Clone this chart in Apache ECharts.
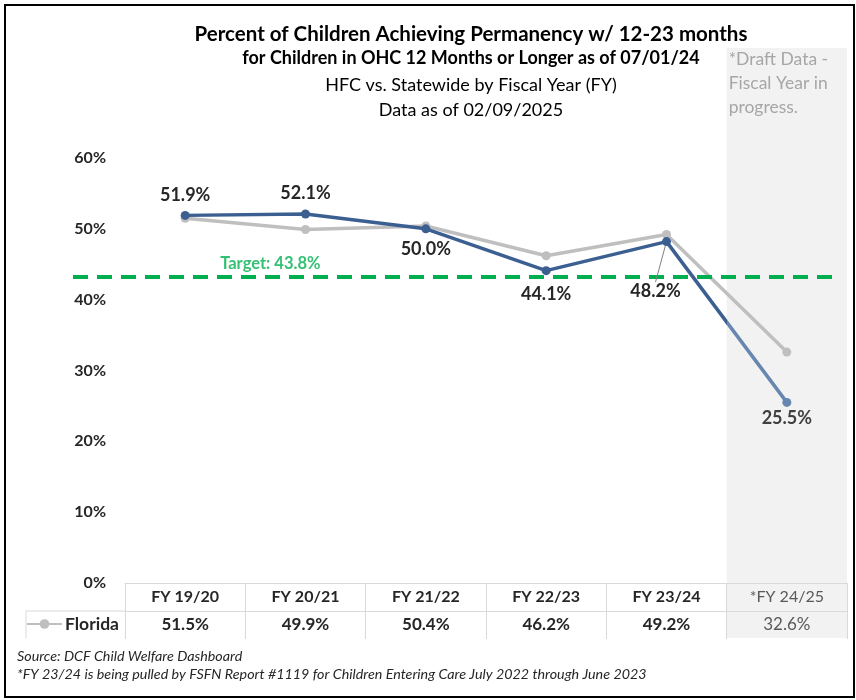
<!DOCTYPE html>
<html>
<head>
<meta charset="utf-8">
<script src="https://cdn.jsdelivr.net/npm/echarts@6/dist/echarts.min.js"></script>
<style>
  html, body { margin: 0; padding: 0; background: #fff; }
  #main { width: 856px; height: 700px; }
</style>
</head>
<body>
<div id="main"></div>
<script>
// 数据
var categories = ['FY 19/20', 'FY 20/21', 'FY 21/22', 'FY 22/23', 'FY 23/24', '*FY 24/25'];
var hfcValues = [51.9, 52.1, 50.0, 44.1, 48.2, 25.5];
var floridaValues = [51.5, 49.9, 50.4, 46.2, 49.2, 32.6];
var targetValue = 43.2;
var targetText = 'Target: 43.8%';
var titleLines = [
  'Percent of Children Achieving Permanency w/ 12-23 months',
  'for Children in OHC 12 Months or Longer as of 07/01/24',
  'HFC vs. Statewide by Fiscal Year (FY)',
  'Data as of 02/09/2025'
];
var draftNote = '*Draft Data -\nFiscal Year in\nprogress.';
var footNotes = [
  'Source: DCF Child Welfare Dashboard',
  '*FY 23/24 is being pulled by FSFN Report #1119 for Children Entering Care July 2022 through June 2023'
];

var FONT = 'Lato';
var DARK = '#262626';
var BLUE = '#3B5F91';
var BLUE_LIGHT = '#6887B0';
var DRAFT_INDEX = categories.length - 1;

// HFC 标签位置
var labelPos = ['top', 'top', 'bottom', 'bottom', 'bottom', 'bottom'];
var labelDist = [7, 7, 7, 10, 5, 2];

// 已完成年度 (深蓝)
var hfcMain = hfcValues.map(function (v, i) {
  if (i == DRAFT_INDEX) return '-';
  var item = { value: v, label: { position: labelPos[i], distance: labelDist[i] } };
  if (i == 4) {
    item.labelLine = { show: true, lineStyle: { color: '#808080', width: 1 } };
  }
  return item;
});
// 草稿年度 (浅蓝段)
var hfcDraft = hfcValues.map(function (v, i) {
  if (i < DRAFT_INDEX - 1) return '-';
  if (i == DRAFT_INDEX - 1) return { value: v, symbol: 'none', label: { show: false } };
  return { value: v, label: { show: true, position: labelPos[i], distance: labelDist[i], color: '#404040' } };
});

var chart = echarts.init(document.getElementById('main'), null, { renderer: 'canvas' });

var labelRich = {
  b: { fontFamily: FONT, fontSize: 16, fontWeight: 'bold', color: DARK, lineHeight: 20 },
  d: { fontFamily: FONT, fontSize: 16, fontWeight: 'normal', color: '#595959', lineHeight: 20 }
};
var valueRich = {
  b: { fontFamily: FONT, fontSize: 17, fontWeight: 'bold', color: DARK, lineHeight: 20 },
  d: { fontFamily: FONT, fontSize: 17, fontWeight: 'normal', color: '#595959', lineHeight: 20 }
};

var option = {
  animation: false,
  backgroundColor: '#fff',
  textStyle: { fontFamily: FONT },
  title: [
    { text: titleLines[0], left: 471, top: 22, textAlign: 'center', padding: 0,
      textStyle: { fontFamily: FONT, fontSize: 20.5, fontWeight: 'bold', color: '#000', lineHeight: 24 } },
    { text: titleLines[1], left: 471, top: 47, textAlign: 'center', padding: 0,
      textStyle: { fontFamily: FONT, fontSize: 18, fontWeight: 'bold', color: '#000', lineHeight: 22 } },
    { text: titleLines[2], left: 471, top: 74, textAlign: 'center', padding: 0,
      textStyle: { fontFamily: FONT, fontSize: 18, fontWeight: 'normal', color: '#000', lineHeight: 22 } },
    { text: titleLines[3], left: 471, top: 99, textAlign: 'center', padding: 0,
      textStyle: { fontFamily: FONT, fontSize: 18, fontWeight: 'normal', color: '#000', lineHeight: 22 } }
  ],
  legend: {
    data: ['Florida'],
    left: 26,
    top: 615,
    itemWidth: 35,
    itemHeight: 12,
    itemGap: 0,
    padding: 0,
    textStyle: { fontFamily: FONT, fontSize: 17.5, fontWeight: 'bold', color: DARK, padding: [0, 0, 0, -2] }
  },
  grid: [
    { left: 125, right: 9, top: 158, bottom: 117 },
    { left: 73, right: 24, top: 158, bottom: 117 }
  ],
  xAxis: [
    {
      type: 'category',
      gridIndex: 0,
      data: categories,
      boundaryGap: true,
      axisLine: { lineStyle: { color: '#D9D9D9', width: 1 } },
      axisTick: { show: true, interval: 0, length: 56, lineStyle: { color: '#D9D9D9', width: 1 } },
      axisLabel: {
        interval: 0,
        margin: 4,
        formatter: function (v, i) {
          return i == DRAFT_INDEX ? '{d|' + v + '}' : '{b|' + v + '}';
        },
        rich: labelRich
      }
    },
    {
      type: 'category',
      gridIndex: 0,
      position: 'bottom',
      offset: 28,
      data: floridaValues.map(function (v) { return v.toFixed(1) + '%'; }),
      boundaryGap: true,
      axisLine: { lineStyle: { color: '#D9D9D9', width: 1 } },
      axisTick: { show: false },
      axisLabel: {
        interval: 0,
        margin: 4,
        formatter: function (v, i) {
          return i == DRAFT_INDEX ? '{d|' + v + '}' : '{b|' + v + '}';
        },
        rich: valueRich
      }
    },
    { type: 'value', gridIndex: 1, min: 0, max: 1, show: false }
  ],
  yAxis: [
    {
      type: 'value',
      gridIndex: 0,
      min: 0,
      max: 60,
      interval: 10,
      axisLine: { show: false },
      axisTick: { show: false },
      splitLine: { show: false },
      axisLabel: {
        formatter: '{value}%',
        margin: 19,
        fontFamily: FONT, fontSize: 16, fontWeight: 'bold', color: DARK
      }
    },
    { type: 'value', gridIndex: 1, min: 0, max: 60, show: false }
  ],
  series: [
    {
      name: 'Florida',
      type: 'line',
      xAxisIndex: 0,
      yAxisIndex: 0,
      data: floridaValues,
      symbol: 'circle',
      symbolSize: 9,
      color: '#BFBFBF',
      lineStyle: { width: 3.5, color: '#BFBFBF' },
      itemStyle: { color: '#BFBFBF' },
      z: 2
    },
    {
      name: 'HFC draft',
      type: 'line',
      xAxisIndex: 0,
      yAxisIndex: 0,
      data: hfcDraft,
      symbol: 'circle',
      symbolSize: 9,
      lineStyle: {
        width: 3.5,
        color: new echarts.graphic.LinearGradient(0, 0, 1, 0, [
          { offset: 0, color: BLUE },
          { offset: 0.5, color: BLUE },
          { offset: 0.5, color: BLUE_LIGHT },
          { offset: 1, color: BLUE_LIGHT }
        ])
      },
      itemStyle: { color: BLUE_LIGHT },
      z: 4,
      label: {
        show: false,
        fontFamily: FONT,
        fontSize: 18,
        fontWeight: 'bold',
        formatter: function (p) { return p.value.toFixed(1) + '%'; }
      }
    },
    {
      name: 'HFC',
      type: 'line',
      xAxisIndex: 0,
      yAxisIndex: 0,
      data: hfcMain,
      symbol: 'circle',
      symbolSize: 9,
      color: BLUE,
      lineStyle: { width: 3.5, color: BLUE },
      itemStyle: { color: BLUE },
      z: 5,
      label: {
        show: true,
        fontFamily: FONT,
        fontSize: 18,
        fontWeight: 'bold',
        color: DARK,
        formatter: function (p) { return p.value.toFixed(1) + '%'; }
      },
      labelLayout: function (p) {
        if (p.dataIndex == 4) {
          return { dx: -11, dy: 31 };
        }
        return {};
      }
    },
    {
      name: 'Target',
      type: 'line',
      xAxisIndex: 2,
      yAxisIndex: 1,
      data: [[0, targetValue], [1, targetValue]],
      symbol: 'none',
      lineStyle: { color: '#00B050', width: 4, type: [15, 9] },
      z: 3
    },
    {
      name: 'TargetLabel',
      type: 'scatter',
      xAxisIndex: 2,
      yAxisIndex: 1,
      data: [[0.26, targetValue]],
      symbolSize: 0,
      z: 3,
      label: {
        show: true,
        position: 'top',
        distance: 5,
        formatter: targetText,
        fontFamily: FONT,
        fontSize: 16.5,
        fontWeight: 'bold',
        color: '#00B050'
      }
    }
  ]
};

chart.setOption(option);

// 草稿区域阴影 + 表格边框 + 脚注
var c5 = chart.convertToPixel({ xAxisIndex: 0 }, categories[DRAFT_INDEX]);
var c4 = chart.convertToPixel({ xAxisIndex: 0 }, categories[DRAFT_INDEX - 1]);
var half = (c5 - c4) / 2;
var yRow = chart.convertToPixel({ yAxisIndex: 0 }, 0) + 28;

chart.setOption({
  graphic: [
    {
      type: 'rect', z: -1, silent: true,
      shape: { x: c5 - half, y: 48, width: half * 2, height: 590 },
      style: { fill: '#F2F2F2' }
    },
    {
      type: 'line', silent: true,
      shape: { x1: 26, y1: yRow, x2: 125, y2: yRow },
      style: { stroke: '#D9D9D9', lineWidth: 1 }
    },
    {
      type: 'line', silent: true,
      shape: { x1: 26, y1: yRow, x2: 26, y2: 638 },
      style: { stroke: '#D9D9D9', lineWidth: 1 }
    },
    {
      type: 'text', silent: true,
      style: {
        x: c5 - half + 2, y: 47, text: draftNote,
        font: 'normal 17.5px ' + FONT, fill: '#A6A6A6', lineHeight: 24
      }
    },
    {
      type: 'text', silent: true,
      style: { x: 17, y: 656, text: footNotes[0], font: 'italic 14.3px ' + FONT, fill: DARK, textVerticalAlign: 'middle' }
    },
    {
      type: 'text', silent: true,
      style: { x: 17, y: 674, text: footNotes[1], font: 'italic 14.3px ' + FONT, fill: DARK, textVerticalAlign: 'middle' }
    },
    {
      type: 'rect', silent: true, z: 10,
      shape: { x: 5, y: 5, width: 849, height: 692 },
      style: { fill: 'none', stroke: '#000', lineWidth: 2 }
    }
  ]
});
</script>
</body>
</html>
